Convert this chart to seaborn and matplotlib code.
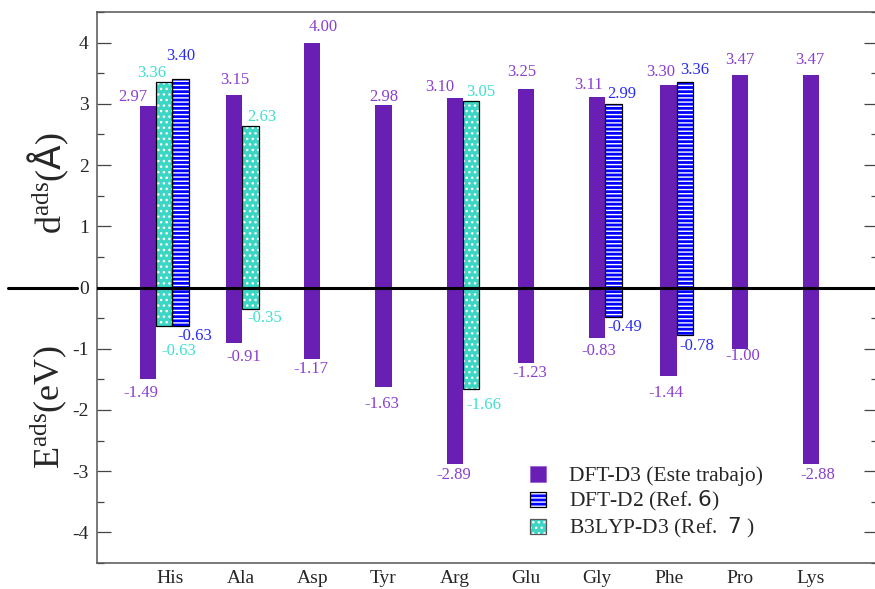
import numpy as np
import pandas as pd
import matplotlib
matplotlib.use("Agg")
import matplotlib.pyplot as plt
import seaborn as sns
from matplotlib.patches import Patch
from matplotlib.legend_handler import HandlerTuple
from matplotlib.lines import Line2D
from matplotlib.ticker import MultipleLocator

# ---------------- data ----------------
categories = ["His", "Ala", "Asp", "Tyr", "Arg", "Glu", "Gly", "Phe", "Pro", "Lys"]
d3_dist = [2.97, 3.15, 4.00, 2.98, 3.10, 3.25, 3.11, 3.30, 3.47, 3.47]
d3_energy = [-1.49, -0.91, -1.17, -1.63, -2.89, -1.23, -0.83, -1.44, -1.00, -2.88]
d2_cats = ["His", "Gly", "Phe"]
d2_dist = [3.40, 2.99, 3.36]
d2_energy = [-0.63, -0.49, -0.78]
b3_cats = ["His", "Ala", "Arg"]
b3_dist = [3.36, 2.63, 3.05]
b3_energy = [-0.63, -0.35, -1.66]
series_labels = ["DFT-D3 (Este trabajo)",
                 r"DFT-D2 (Ref. $\mathsf{6}$)",
                 r"B3LYP-D3 (Ref.  $\mathsf{7}$ )"]
ylabel_top = r"d$^{\rm ads}$($\mathsf{Å}$)"
ylabel_bottom = r"E$^{\rm ads}$(eV)"

# ---------------- style / layout ----------------
sns.set_style("ticks")
plt.rcParams["font.family"] = ["Liberation Serif", "DejaVu Sans"]
plt.rcParams["mathtext.fontset"] = "custom"
plt.rcParams["mathtext.rm"] = "Liberation Serif"
plt.rcParams["mathtext.it"] = "Liberation Serif:italic"
plt.rcParams["mathtext.bf"] = "Liberation Serif:bold"
plt.rcParams["mathtext.sf"] = "DejaVu Sans"
plt.rcParams["axes.unicode_minus"] = False
plt.rcParams["hatch.linewidth"] = 1.0

PURPLE = "#6A1FB4"
PURPLE_TXT = "#8A3FD0"
BLUE = "#0000FF"
BLUE_TXT = "#2A2AF5"
TEAL = "#3DD6C4"
TEAL_TXT = "#40E0D0"
BAR_W = 0.23
group_shift = {"His": -0.31, "Ala": -0.10}
series_order = ["d3", "b3", "d2"]
members = {"d3": categories, "b3": b3_cats, "d2": d2_cats}

PX = 0.72  # px -> pt at dpi 100
d3_pos_off = [(-15, 9), (1, 15), (11, 16), (0, 8), (-15, 11), (-4, 17), (-9, 12), (-8, 13), (0, 15), (-1, 15)]
d3_neg_off = [(-7, 14), (10, 14), (-1, 10), (-2, 17), (-1, 11), (4, 10), (1, 13), (-3, 17), (3, 7), (7, 11)]
b3_pos_off = [(-12, 9), (11, 9), (10, 9)]
b3_neg_off = [(15, 25), (14, 9), (13, 16)]
d2_pos_off = [(0, 23), (8, 10), (10, 12)]
d2_neg_off = [(14, 10), (11, 10), (12, 11)]


def positions(key):
    out = []
    for c in members[key]:
        present = [s for s in series_order if c in members[s]]
        slot = present.index(key)
        out.append(categories.index(c) + group_shift.get(c, 0.0) + slot * BAR_W)
    return out


def draw_bars(ax, xs, ys, face, edge, hatch, lw, z):
    df = pd.DataFrame({"x": xs, "y": ys})
    u = np.unique(xs)
    native = np.min(np.diff(u)) if len(u) > 1 else 1.0
    n0 = len(ax.patches)
    sns.barplot(data=df, x="x", y="y", native_scale=True, orient="x",
                width=BAR_W / native, errorbar=None, color=PURPLE,
                saturation=1, legend=False, ax=ax)
    for p in ax.patches[n0:]:
        p.set_facecolor(face)
        p.set_edgecolor(edge)
        p.set_hatch(hatch)
        p.set_linewidth(lw)
        p.set_zorder(z)


def draw_labels(ax, xs, ys, offs, color, positive):
    for x, y, (dx, dy) in zip(xs, ys, offs):
        sgn = 1 if positive else -1
        ax.annotate(f"{y:.2f}", xy=(x, y), xytext=(dx * PX, sgn * dy * PX),
                    textcoords="offset points", ha="center", va="center",
                    fontsize=12, color=color, zorder=6)


fig = plt.figure(figsize=(8.75, 5.89), dpi=100)
ax = fig.add_axes([97 / 875, 26 / 589, (878 - 97) / 875, (563 - 12) / 589])

x_d3 = positions("d3")
x_b3 = positions("b3")
x_d2 = positions("d2")

# DFT-D3
draw_bars(ax, x_d3, d3_dist, PURPLE, PURPLE, None, 0, 2)
draw_bars(ax, x_d3, d3_energy, PURPLE, PURPLE, None, 0, 2)
# B3LYP-D3 (teal, white dots)
for vals in (b3_dist, b3_energy):
    draw_bars(ax, x_b3, vals, TEAL, "white", "...", 0, 2)
    draw_bars(ax, x_b3, vals, "none", "black", None, 0.9, 3)
# DFT-D2 (blue, white stripes)
for vals in (d2_dist, d2_energy):
    draw_bars(ax, x_d2, vals, BLUE, "white", "----", 0, 2)
    draw_bars(ax, x_d2, vals, "none", "black", None, 0.9, 3)

draw_labels(ax, x_d3, d3_dist, d3_pos_off, PURPLE_TXT, True)
draw_labels(ax, x_d3, d3_energy, d3_neg_off, PURPLE_TXT, False)
draw_labels(ax, x_b3, b3_dist, b3_pos_off, TEAL_TXT, True)
draw_labels(ax, x_b3, b3_energy, b3_neg_off, TEAL_TXT, False)
draw_labels(ax, x_d2, d2_dist, d2_pos_off, BLUE_TXT, True)
draw_labels(ax, x_d2, d2_energy, d2_neg_off, BLUE_TXT, False)

ax.axhline(0, color="black", lw=2.2, zorder=5)

ax.set_xlim(-1.022, 9.94)
ax.set_ylim(-4.5, 4.5)
ax.set_xticks(range(len(categories)))
ax.set_xticklabels(categories, fontsize=14)
ax.set_yticks(range(-4, 5))
ax.yaxis.set_minor_locator(MultipleLocator(0.5))
ax.tick_params(axis="y", which="both", direction="in", left=True, right=True,
               labelsize=14, color="#444444", width=0.9, pad=6)
ax.tick_params(axis="y", which="major", length=10)
ax.tick_params(axis="y", which="minor", length=5)
ax.tick_params(axis="x", length=0, pad=5)
ax.set_xlabel("")
ax.set_ylabel("")
for s in ax.spines.values():
    s.set_color("#555555")
    s.set_linewidth(1.1)

# zero line continuing left of the axis
fig.add_artist(Line2D([8 / 875, 77 / 875], [1 - 288 / 589] * 2, color="black", lw=2.2))

fig.text(48 / 875, 1 - 183 / 589, ylabel_top, rotation=90, ha="center", va="center", fontsize=26)
fig.text(48 / 875, 1 - 407 / 589, ylabel_bottom, rotation=90, ha="center", va="center", fontsize=26)

h_d3 = Patch(facecolor=PURPLE, edgecolor="#9A5AD8", linewidth=0.5)
h_d2 = (Patch(facecolor=BLUE, edgecolor="white", hatch="----", linewidth=0),
        Patch(facecolor="none", edgecolor="black", linewidth=0.9))
h_b3 = (Patch(facecolor=TEAL, edgecolor="white", hatch="...", linewidth=0),
        Patch(facecolor="none", edgecolor="#555555", linewidth=0.9))
leg = ax.legend([h_d3, h_d2, h_b3], series_labels,
                handler_map={tuple: HandlerTuple(ndivide=1, pad=0)},
                loc="upper left", bbox_to_anchor=(530 / 875, 1 - 466 / 589),
                bbox_transform=fig.transFigure, frameon=False, fontsize=15.5,
                handlelength=0.75, handleheight=0.75, handletextpad=1.05,
                labelspacing=0.14, borderpad=0, borderaxespad=0)

fig.savefig("out.png", dpi=100)
